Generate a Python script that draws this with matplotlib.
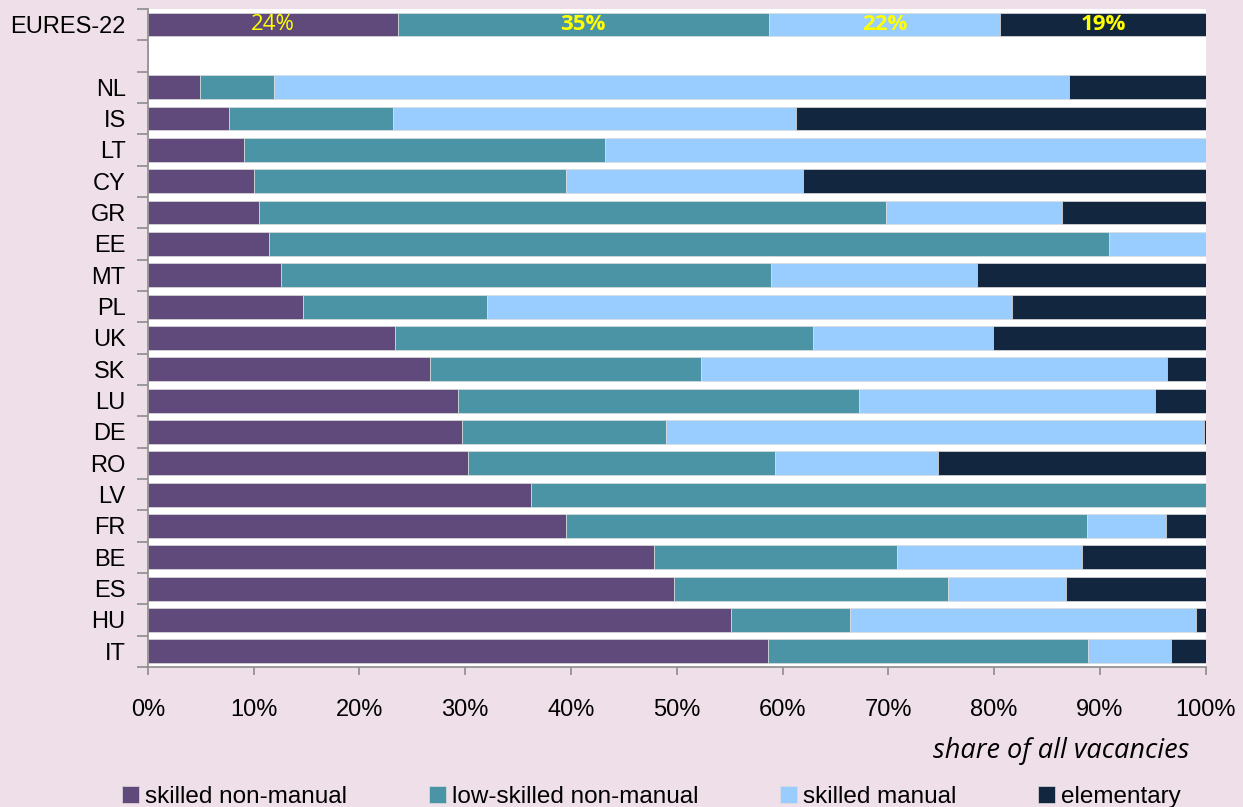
import numpy as np
import matplotlib
matplotlib.use("Agg")
import matplotlib.pyplot as plt
from matplotlib.ticker import FixedLocator, PercentFormatter

plt.rcParams['font.family'] = ['Liberation Sans', 'DejaVu Sans']

# data (shares in %), top to bottom
countries = ['EURES-22', '', 'NL', 'IS', 'LT', 'CY', 'GR', 'EE', 'MT', 'PL', 'UK',
             'SK', 'LU', 'DE', 'RO', 'LV', 'FR', 'BE', 'ES', 'HU', 'IT']
skilled_non_manual = [23.6, 0, 4.9, 7.7, 9.1, 10.0, 10.5, 11.4, 12.6, 14.7, 23.4,
                      26.7, 29.3, 29.7, 30.3, 36.2, 39.5, 47.8, 49.7, 55.1, 58.6]
low_skilled_non_manual = [35.1, 0, 7.0, 15.5, 34.1, 29.5, 59.3, 79.5, 46.3, 17.4, 39.5,
                          25.6, 37.9, 19.3, 29.0, 63.8, 49.3, 23.0, 25.9, 11.3, 30.3]
skilled_manual = [21.9, 0, 75.2, 38.1, 56.8, 22.4, 16.6, 9.1, 19.5, 49.6, 17.0,
                  44.0, 28.0, 50.8, 15.4, 0, 7.4, 17.5, 11.2, 32.7, 7.8]
elementary = [19.4, 0, 12.9, 38.7, 0, 38.1, 13.6, 0, 21.6, 18.3, 20.1,
              3.7, 4.8, 0.2, 25.3, 0, 3.8, 11.7, 13.2, 0.9, 3.3]
eures_labels = ['24%', '35%', '22%', '19%']

series = [
    ('skilled non-manual', skilled_non_manual, '#604a7b'),
    ('low-skilled non-manual', low_skilled_non_manual, '#4a94a6'),
    ('skilled manual', skilled_manual, '#99ccff'),
    ('elementary', elementary, '#122640'),
]

bg = '#efdfe9'
fig = plt.figure(figsize=(12.43, 8.07), dpi=100, facecolor=bg)
ax = fig.add_axes([0.119, 0.1735, 0.851, 0.8155])
ax.set_facecolor('white')

y = np.arange(len(countries))
left = np.zeros(len(countries))
for name, vals, col in series:
    vals = np.array(vals)
    ax.barh(y, vals, left=left, height=0.76, color=col, label=name,
            edgecolor='#dcdcdc', linewidth=0.5)
    left += vals

# labels on the EURES-22 bar
start = 0
for i, (name, vals, col) in enumerate(series):
    v = vals[0]
    ax.text(start + v / 2, 0, eures_labels[i], ha='center', va='center',
            color='#ffff00', fontsize=16, family=['Open Sans', 'DejaVu Sans'],
            fontweight='normal' if i == 0 else 'bold')
    start += v

ax.set_xlim(0, 100)
ax.set_ylim(len(countries) - 0.5, -0.5)
ax.set_yticks(y)
ax.set_yticklabels(countries, fontsize=17)
ax.yaxis.set_minor_locator(FixedLocator(np.arange(-0.5, len(countries), 1)))
ax.tick_params(axis='y', which='major', length=0, pad=16)
ax.tick_params(axis='y', which='minor', length=8, color='#8c8c8c', width=1.2)

ax.set_xticks(np.arange(0, 101, 10))
ax.xaxis.set_major_formatter(PercentFormatter(decimals=0))
ax.tick_params(axis='x', length=6, color='#8c8c8c', width=1.2, pad=17, labelsize=17)

for s in ['top', 'right']:
    ax.spines[s].set_visible(False)
for s in ['left', 'bottom']:
    ax.spines[s].set_color('#8c8c8c')
    ax.spines[s].set_linewidth(1.2)

fig.text(0.957, 0.07, 'share of all vacancies', ha='right', va='center',
         fontsize=19.5, style='italic', family=['Open Sans', 'DejaVu Sans'])

fig.legend(loc='center', bbox_to_anchor=(0.524, 0.012), ncol=4, frameon=False,
           fontsize=17.5, handlelength=0.7, handleheight=0.7, handletextpad=0.25,
           columnspacing=3.35)

fig.savefig('out.png', dpi=100, facecolor=bg)
